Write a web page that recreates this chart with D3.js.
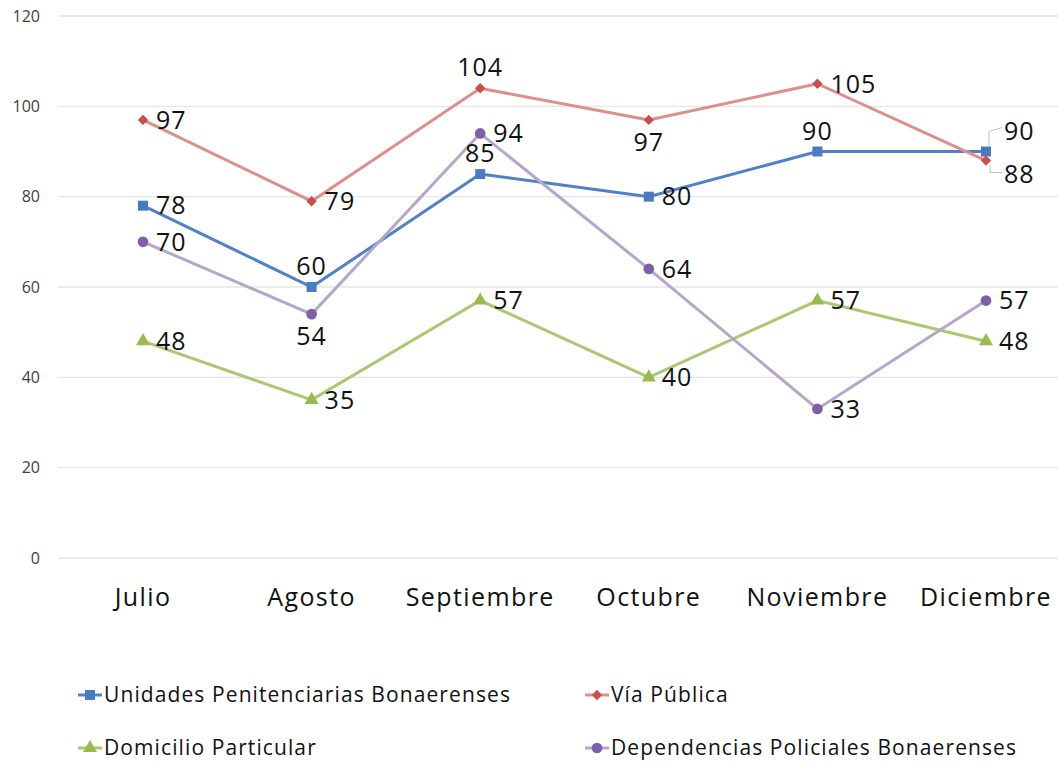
<!DOCTYPE html>
<html>
<head>
<meta charset="utf-8">
<script src="https://cdn.jsdelivr.net/npm/d3@7"></script>
<style>
  body { margin: 0; background: #fff; }
  svg { display: block; font-family: "Open Sans", Lato, sans-serif; }
</style>
</head>
<body>
<svg width="1058" height="762"></svg>
<script>
// data
var months = ["Julio", "Agosto", "Septiembre", "Octubre", "Noviembre", "Diciembre"];
var unidades = [78, 60, 85, 80, 90, 90];
var viaPublica = [97, 79, 104, 97, 105, 88];
var domicilio = [48, 35, 57, 40, 57, 48];
var dependencias = [70, 54, 94, 64, 33, 57];
var yTicks = [0, 20, 40, 60, 80, 100, 120];

// where each data label sits relative to its point (r = right, t = top, b = bottom)
var unidadesPos = ["r", "t", "t", "r", "t", "ru"];
var viaPos = ["r", "r", "t", "b", "r", "rd"];
var domicilioPos = ["r", "r", "r", "r", "r", "r"];
var dependenciasPos = ["r", "b", "r", "r", "r", "r"];

var diamond = { draw: function(ctx, size) {
  var r = Math.sqrt(size) / 2 * 1.3;
  ctx.moveTo(0, -r); ctx.lineTo(r, 0); ctx.lineTo(0, r); ctx.lineTo(-r, 0); ctx.closePath();
} };

var series = [
  { name: "Unidades Penitenciarias Bonaerenses", values: unidades, pos: unidadesPos, line: "#4f81c6", mark: "#4a7bc0", shape: d3.symbolSquare, size: 100 },
  { name: "Vía Pública", values: viaPublica, pos: viaPos, line: "#dc8f8c", mark: "#c94d4a", shape: diamond, size: 64 },
  { name: "Domicilio Particular", values: domicilio, pos: domicilioPos, line: "#a9c971", mark: "#97bb4e", shape: d3.symbolTriangle, size: 85 },
  { name: "Dependencias Policiales Bonaerenses", values: dependencias, pos: dependenciasPos, line: "#b6a6cc", mark: "#7f5fa6", shape: d3.symbolCircle, size: 90 }
];

var svg = d3.select("svg");

var x = d3.scalePoint().domain(months).range([143, 986]);
var y = d3.scaleLinear().domain([0, 120]).range([558, 16]);

// grid
svg.append("g")
  .selectAll("line")
  .data(yTicks)
  .enter()
  .append("line")
  .attr("x1", 58)
  .attr("x2", 1058)
  .attr("y1", function(d) { return y(d); })
  .attr("y2", function(d) { return y(d); })
  .attr("stroke", "#e6e6e6")
  .attr("stroke-width", 1.3);

// y labels
svg.append("g")
  .selectAll("text")
  .data(yTicks)
  .enter()
  .append("text")
  .attr("x", 40)
  .attr("y", function(d) { return y(d); })
  .attr("dy", "0.35em")
  .attr("text-anchor", "end")
  .attr("font-size", 16)
  .attr("fill", "#404040")
  .text(function(d) { return d; });

// x labels
svg.append("g")
  .selectAll("text")
  .data(months)
  .enter()
  .append("text")
  .attr("x", function(d) { return x(d); })
  .attr("y", 606)
  .attr("text-anchor", "middle")
  .attr("font-size", 25)
  .attr("letter-spacing", 1.4)
  .attr("fill", "#111")
  .text(function(d) { return d; });

var line = d3.line()
  .x(function(d, i) { return x(months[i]); })
  .y(function(d) { return y(d); });

series.forEach(function(s) {
  var g = svg.append("g");
  g.append("path")
    .attr("d", line(s.values))
    .attr("fill", "none")
    .attr("stroke", s.line)
    .attr("stroke-width", 3);
  g.selectAll("path.mk")
    .data(s.values)
    .enter()
    .append("path")
    .attr("class", "mk")
    .attr("d", d3.symbol().type(s.shape).size(s.size))
    .attr("transform", function(d, i) { return "translate(" + x(months[i]) + "," + y(d) + ")"; })
    .attr("fill", s.mark);
});

// data labels
series.forEach(function(s) {
  var g = svg.append("g");
  s.values.forEach(function(v, i) {
    var px = x(months[i]), py = y(v), p = s.pos[i];
    var t = g.append("text")
      .attr("font-size", 25)
      .attr("letter-spacing", 1)
      .attr("fill", "#111")
      .text(v);
    if (p == "r") {
      t.attr("x", px + 13).attr("y", py).attr("dy", "0.35em");
    } else if (p == "t") {
      t.attr("x", px).attr("y", py - 12).attr("text-anchor", "middle");
    } else if (p == "b") {
      t.attr("x", px).attr("y", py + 31).attr("text-anchor", "middle");
    } else if (p == "ru") {
      t.attr("x", px + 18).attr("y", py - 20).attr("dy", "0.35em");
      g.append("path")
        .attr("d", "M" + (px + 3) + "," + (py - 5) + "L" + (px + 3) + "," + (py - 20) + "L" + (px + 16) + "," + (py - 24))
        .attr("fill", "none").attr("stroke", "#bfbfbf").attr("stroke-width", 1);
    } else if (p == "rd") {
      t.attr("x", px + 18).attr("y", py + 14).attr("dy", "0.35em");
      g.append("path")
        .attr("d", "M" + (px + 4) + "," + (py + 5) + "L" + (px + 4) + "," + (py + 12) + "L" + (px + 16) + "," + (py + 12))
        .attr("fill", "none").attr("stroke", "#bfbfbf").attr("stroke-width", 1);
    }
  });
});

// legend
var legendPos = [[78, 695], [585, 695], [78, 748], [585, 748]];
series.forEach(function(s, i) {
  var lx = legendPos[i][0], ly = legendPos[i][1];
  var g = svg.append("g").attr("transform", "translate(" + lx + "," + ly + ")");
  g.append("line").attr("x1", 0).attr("x2", 24).attr("y1", 0).attr("y2", 0)
    .attr("stroke", s.line).attr("stroke-width", 3);
  g.append("path").attr("d", d3.symbol().type(s.shape).size(s.size))
    .attr("transform", "translate(12,0)").attr("fill", s.mark);
  g.append("text").attr("x", 26).attr("y", 0).attr("dy", "0.35em")
    .attr("font-size", 21).attr("letter-spacing", 1.1)
    .attr("fill", "#111").text(s.name);
});
</script>
</body>
</html>
